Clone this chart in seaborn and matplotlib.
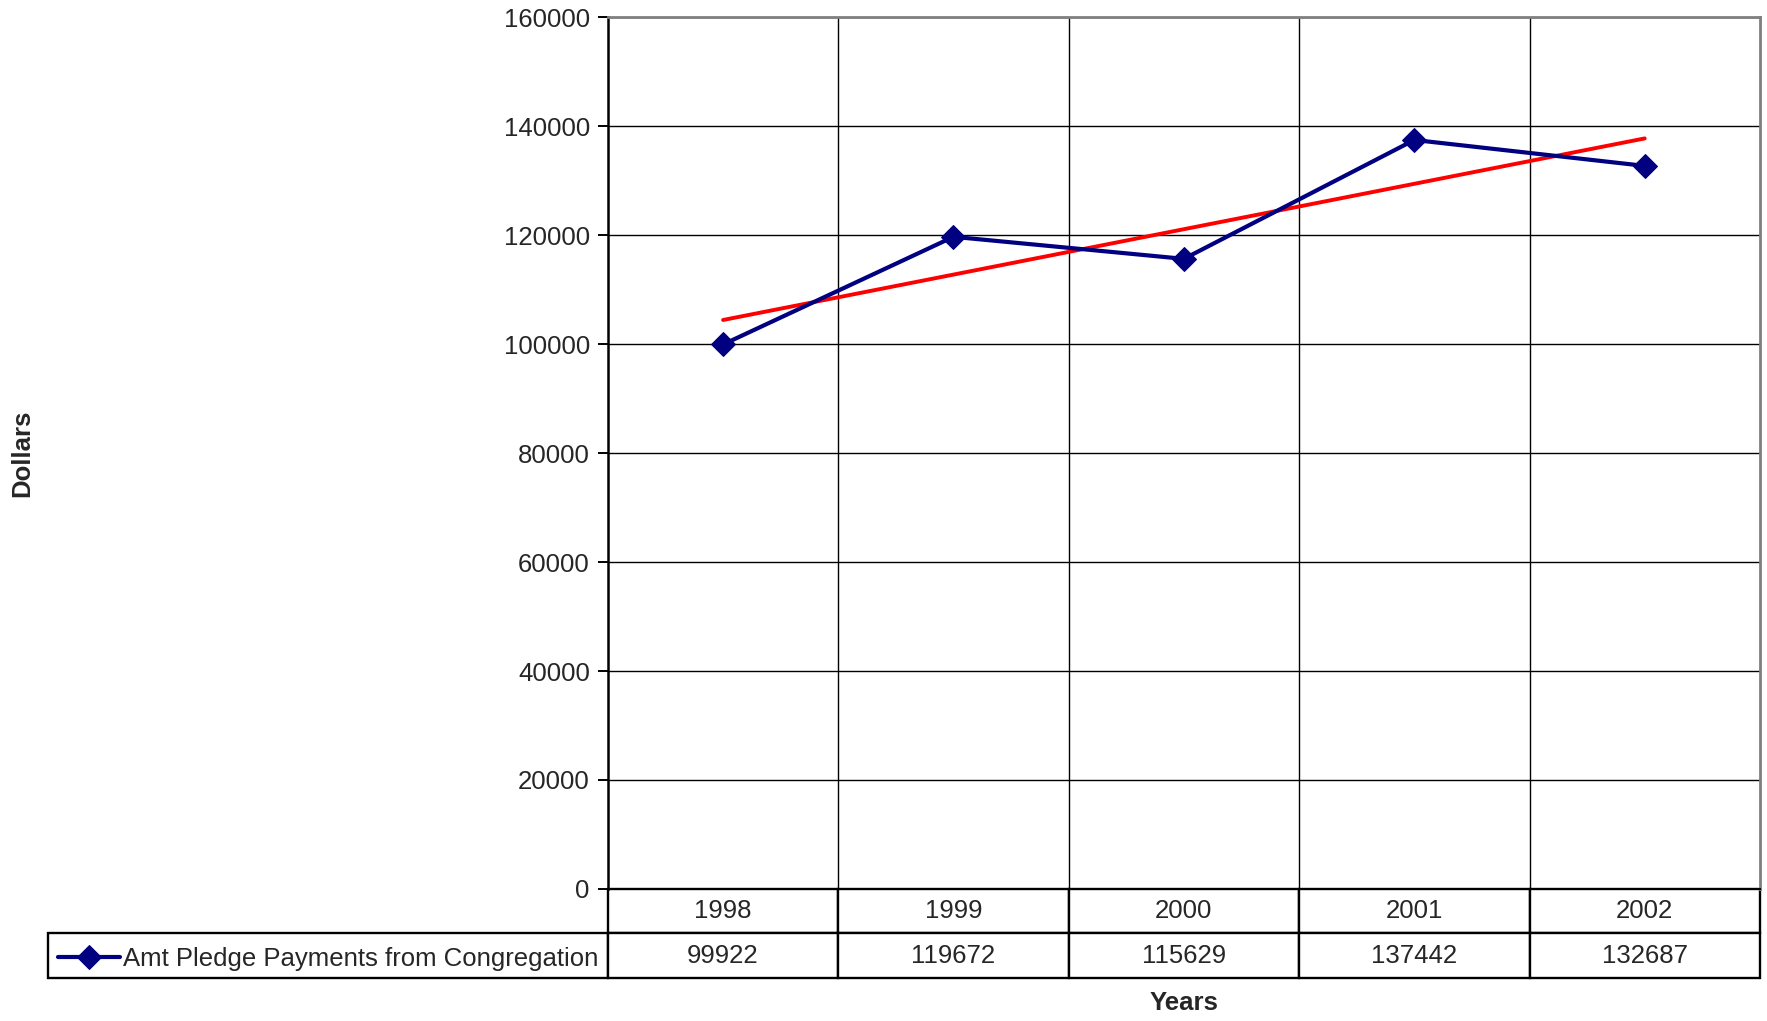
"""Amt pledge payments from congregation, 1998-2002, with linear trend and data table."""
import matplotlib
matplotlib.use("Agg")
import matplotlib.pyplot as plt
import numpy as np
import pandas as pd
import seaborn as sns

years = [1998, 1999, 2000, 2001, 2002]
payments = [99922, 119672, 115629, 137442, 132687]
series_name = "Amt Pledge Payments from Congregation"
y_ticks = [0, 20000, 40000, 60000, 80000, 100000, 120000, 140000, 160000]

df = pd.DataFrame({"year": years, "payments": payments})

sns.set_theme(style="white")
plt.rcParams["font.family"] = ["Liberation Sans", "DejaVu Sans"]
FS = 18.5

fig = plt.figure(figsize=(17.67, 10.21), dpi=100)
ax = fig.add_axes([0.344, 0.1293, 0.652, 0.854])

navy = "#000080"
sns.lineplot(data=df, x="year", y="payments", ax=ax, color=navy, lw=3.0,
             marker="D", markersize=12, markeredgecolor=navy, zorder=4)
sns.regplot(data=df, x="year", y="payments", ax=ax, scatter=False, ci=None,
            truncate=True, color="#ff0000", line_kws={"lw": 2.8, "zorder": 3})

ax.set_xlim(years[0] - 0.5, years[-1] + 0.5)
ax.set_ylim(y_ticks[0], y_ticks[-1])
ax.set_yticks(y_ticks)
ax.set_yticklabels([str(t) for t in y_ticks], fontsize=FS)
ax.set_xticks(np.array(years[:-1]) + 0.5)
ax.set_xticklabels([])
ax.tick_params(axis="x", length=0)
ax.tick_params(axis="y", length=7, width=1.4, color="black", pad=6, left=True)

ax.grid(True, color="black", lw=1.0)
ax.set_axisbelow(True)
ax.spines["left"].set_color("black")
ax.spines["left"].set_linewidth(1.8)
ax.spines["bottom"].set_color("black")
ax.spines["bottom"].set_linewidth(1.4)
for side in ("top", "right"):
    ax.spines[side].set_color("#808080")
    ax.spines[side].set_linewidth(2.0)

ax.set_ylabel("Dollars", fontsize=FS, fontweight="bold", va="center")
ax.yaxis.set_label_coords(-0.508, 0.5)
ax.set_xlabel("Years", fontsize=FS, fontweight="bold", va="center")
ax.xaxis.set_label_coords(0.5, -0.131)

# data table under the plot (Excel style)
label_w = 0.486
cell_text = [[""] + [str(y) for y in years], [""] + [str(p) for p in payments]]
tbl = ax.table(cellText=cell_text, colWidths=[label_w] + [1 / len(years)] * len(years),
               cellLoc="center", bbox=[-label_w, -0.102, 1 + label_w, 0.102])
tbl.auto_set_font_size(False)
tbl.set_fontsize(FS)
for (r, c), cell in tbl.get_celld().items():
    cell.set_linewidth(1.7)
    cell.set_edgecolor("black")
    if r == 0 and c == 0:
        cell.visible_edges = ""

# legend key inside the row label cell
key = ax.lines[0]
ax.legend([key], [series_name], loc="center left", bbox_to_anchor=(0.033, 0.061),
          bbox_transform=fig.transFigure, frameon=False, fontsize=FS,
          handlelength=2.4, handletextpad=0.1, borderpad=0, borderaxespad=0)

fig.savefig("out.png", dpi=100)
